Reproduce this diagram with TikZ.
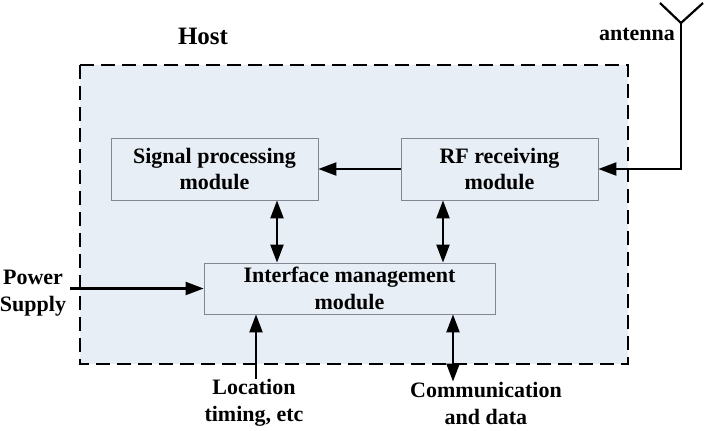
\documentclass[tikz,border=0pt]{standalone}
\usepackage{fontspec}
\setmainfont{Liberation Serif}
\usetikzlibrary{arrows.meta}
\definecolor{hostfill}{RGB}{232,238,246}
\definecolor{boxline}{RGB}{130,135,145}
\tikzset{
  module/.style={draw=boxline,fill=hostfill,line width=.8pt,align=center,inner sep=0pt},
  lbl/.style={align=center,inner sep=0pt},
  link/.style={line width=2.2pt},
}
\begin{document}
\begin{tikzpicture}[x=1pt,y=-1pt,>={Triangle[length=18pt,width=13pt]},
    font=\fontsize{22}{27}\selectfont\bfseries]
  \useasboundingbox (0,0) rectangle (705,431);
  % host area
  \draw[line width=2.4pt,dash pattern=on 14pt off 7pt,fill=hostfill] (80,65) rectangle (628,364);
  \node[lbl,font=\fontsize{25}{28}\selectfont\bfseries] (hostlbl) at (203,36) {Host};
  % modules
  \node[module,minimum width=207pt,minimum height=62pt] (sig) at (214.5,169) {Signal processing\\module};
  \node[module,minimum width=197pt,minimum height=62pt] (rf) at (499.5,169) {RF receiving\\module};
  \node[module,minimum width=291pt,minimum height=51pt] (iface) at (349.5,288.5) {Interface management\\module};
  % outside labels
  \node[lbl] (ant) at (637,34) {antenna};
  \node[lbl] (pwr) at (33,293) {Power\\Supply};
  \node[lbl] (loc) at (254,403) {Location\\timing, etc};
  \node[lbl] (comm) at (486,403) {Communication\\and data};
  % antenna
  \coordinate (mast) at (681,23);
  \draw[link] (660,3) -- (mast) -- (703,3);
  \draw[link,->] (mast) |- (rf.east);
  % connectors
  \coordinate (s1) at (277,0);
  \coordinate (r1) at (443,0);
  \coordinate (l1) at (256,0);
  \coordinate (c1) at (453,0);
  \draw[link,->] (rf) -- (sig);
  \draw[link,<->] (sig.south -| s1) -- (iface.north -| s1);
  \draw[link,<->] (rf.south -| r1) -- (iface.north -| r1);
  \draw[link,->] ([xshift=4pt]pwr.east |- iface) -- (iface.west);
  \draw[link,->] (loc.north -| l1) -- (iface.south -| l1);
  \draw[link,<->] (comm.north -| c1) -- (iface.south -| c1);
\end{tikzpicture}
\end{document}
